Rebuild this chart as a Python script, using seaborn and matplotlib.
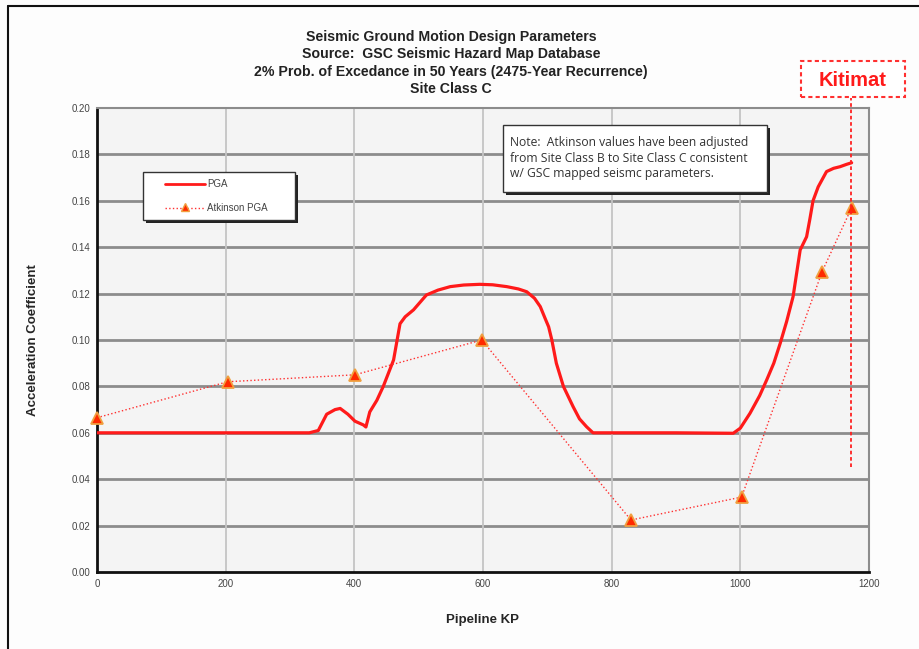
import pandas as pd
import matplotlib.pyplot as plt
import seaborn as sns
from matplotlib.patches import FancyBboxPatch, Rectangle
from matplotlib.lines import Line2D

# ---- data ----
pga_kp = [0, 100, 200, 300, 330, 344, 357, 370, 378, 390, 401, 414, 418, 424, 435,
          445, 461, 471, 479, 492, 512, 530, 549, 570, 595, 615, 637, 655, 668,
          680, 689, 697, 702, 707, 714, 725, 740, 750, 761, 771, 800, 900, 989,
          1000, 1015, 1030, 1041, 1052, 1062, 1072, 1082, 1093, 1103, 1108,
          1113, 1121, 1134, 1145, 1155, 1165, 1173]
pga = [0.060, 0.060, 0.060, 0.060, 0.060, 0.061, 0.068, 0.070, 0.0705, 0.068,
       0.065, 0.0634, 0.0625, 0.069, 0.074, 0.080, 0.0914, 0.107, 0.110, 0.113,
       0.1194, 0.1215, 0.123, 0.1237, 0.124, 0.1238, 0.123, 0.122, 0.1208,
       0.118, 0.1144, 0.109, 0.1057, 0.100, 0.090, 0.080, 0.0713, 0.066, 0.0626,
       0.060, 0.060, 0.060, 0.0598, 0.062, 0.0684, 0.076, 0.0828, 0.090, 0.0986,
       0.108, 0.1187, 0.1388, 0.1445, 0.152, 0.160, 0.166, 0.1726, 0.174,
       0.1747, 0.1757, 0.1764]

atk_kp = [0, 203, 401, 598, 830, 1002, 1127, 1173]
atk_pga = [0.0665, 0.082, 0.085, 0.100, 0.0224, 0.0323, 0.1294, 0.157]

kitimat_kp = 1172

title_lines = ["Seismic Ground Motion Design Parameters",
               "Source:  GSC Seismic Hazard Map Database",
               "2% Prob. of Excedance in 50 Years (2475-Year Recurrence)",
               "Site Class C"]
note_text = ("Note:  Atkinson values have been adjusted\n"
             "from Site Class B to Site Class C consistent\n"
             "w/ GSC mapped seismc parameters.")

df_pga = pd.DataFrame({"kp": pga_kp, "val": pga})
df_atk = pd.DataFrame({"kp": atk_kp, "val": atk_pga})

sns.set_theme(style="white")
plt.rcParams['font.family'] = ['Liberation Sans', 'DejaVu Sans']

fig = plt.figure(figsize=(9.2, 6.49), dpi=100)
fig.patch.set_facecolor('#fdfdfd')
ax = fig.add_axes([97 / 920, 77 / 649, 772 / 920, 464 / 649])
ax.set_facecolor('#f4f4f4')

# grid: dark horizontals, light verticals
for yv in [0.02 * i for i in range(1, 10)]:
    ax.axhline(yv, color='#8c8c8c', lw=2.0, zorder=1)
for xv in [200, 400, 600, 800, 1000]:
    ax.axvline(xv, color='#c4c4c4', lw=1.3, zorder=1)

sns.lineplot(data=df_pga, x="kp", y="val", ax=ax, color='#ff1a1a', lw=2.3,
             zorder=3, label='PGA')
sns.lineplot(data=df_atk, x="kp", y="val", ax=ax, color='#ff3030', lw=1.0,
             linestyle=':', marker='^', markersize=9, markerfacecolor='#ff2a00',
             markeredgecolor='#f0a040', markeredgewidth=1.3, zorder=4,
             label='Atkinson PGA', clip_on=False)
ax.get_legend().remove()

ax.set_xlim(0, 1200)
ax.set_ylim(0, 0.20)
ax.set_xticks(range(0, 1201, 200))
ax.set_yticks([0.02 * i for i in range(11)])
ax.set_yticklabels([f"{0.02 * i:.2f}" for i in range(11)])
ax.tick_params(axis='both', labelsize=7, colors='#111111', labelcolor='#444444',
               length=4, width=1.2, direction='inout', pad=3)
for s in ['left', 'bottom']:
    ax.spines[s].set_color('#111111')
    ax.spines[s].set_linewidth(2)
for s in ['top', 'right']:
    ax.spines[s].set_color('#8c8c8c')
    ax.spines[s].set_linewidth(1.5)

ax.set_xlabel('Pipeline KP', fontsize=9.5, fontweight='bold', labelpad=18)
ax.set_ylabel('Acceleration Coefficient', fontsize=9.5, fontweight='bold', labelpad=23)

# title block
for i, line in enumerate(title_lines):
    fig.text(451 / 920, 1 - (37 + i * 17.3) / 649, line, ha='center', va='center',
             fontsize=10.2, fontweight='bold', color='#222222')

# legend box with shadow
lx0, ly0, lx1, ly1 = 143 / 920, 1 - 220 / 649, 295 / 920, 1 - 172 / 649
fig.patches.append(Rectangle((lx0 + 0.003, ly0 - 0.004), lx1 - lx0, ly1 - ly0,
                             transform=fig.transFigure, facecolor='#222222',
                             edgecolor='none', zorder=5))
fig.patches.append(Rectangle((lx0, ly0), lx1 - lx0, ly1 - ly0, transform=fig.transFigure,
                             facecolor='white', edgecolor='#333333', lw=1, zorder=6))
fig.lines.append(Line2D([165 / 920, 205 / 920], [1 - 184 / 649] * 2, transform=fig.transFigure,
                        color='#ff1a1a', lw=2, zorder=7))
fig.text(207 / 920, 1 - 184 / 649, 'PGA', fontsize=7, va='center', color='#444444', zorder=7)
fig.lines.append(Line2D([165 / 920, 205 / 920], [1 - 208 / 649] * 2, transform=fig.transFigure,
                        color='#ff3030', lw=1, linestyle=':', zorder=7))
fig.lines.append(Line2D([185 / 920], [1 - 207 / 649], transform=fig.transFigure,
                        marker='^', markersize=6, markerfacecolor='#ff2a00',
                        markeredgecolor='#f0a040', color='none', zorder=8))
fig.text(207 / 920, 1 - 208 / 649, 'Atkinson PGA', fontsize=7, va='center',
         color='#444444', zorder=7)

# note box with shadow
nx0, ny0, nx1, ny1 = 503 / 920, 1 - 192 / 649, 767 / 920, 1 - 125 / 649
fig.patches.append(Rectangle((nx0 + 0.003, ny0 - 0.004), nx1 - nx0, ny1 - ny0,
                             transform=fig.transFigure, facecolor='#222222',
                             edgecolor='none', zorder=5))
fig.patches.append(Rectangle((nx0, ny0), nx1 - nx0, ny1 - ny0, transform=fig.transFigure,
                             facecolor='white', edgecolor='#333333', lw=1, zorder=6))
fig.text(510 / 920, 1 - 158 / 649, note_text, fontsize=8.7, va='center', ha='left',
         color='#333333', linespacing=1.25, family=['Open Sans', 'DejaVu Sans'], zorder=7)

# Kitimat marker line and label
kx = ax.transData.transform((kitimat_kp, 0))[0] / fig.bbox.width
fig.lines.append(Line2D([kx, kx], [1 - 467 / 649, 1 - 98 / 649], transform=fig.transFigure,
                        color='#ff2020', lw=1.3, linestyle=(0, (2, 1.5)), zorder=9))
fig.patches.append(FancyBboxPatch((801 / 920, 1 - 97 / 649), 104 / 920, 36 / 649,
                                  boxstyle='square,pad=0', transform=fig.transFigure,
                                  facecolor='white', edgecolor='#ff3030', lw=1.5,
                                  linestyle=(0, (2, 1.5)), zorder=9))
fig.text(853 / 920, 1 - 80 / 649, 'Kitimat', fontsize=14.5, fontweight='bold',
         color='#ff1a1a', ha='center', va='center', zorder=10)

# outer frame (left and top edges visible in the crop)
fig.lines.append(Line2D([8 / 920, 8 / 920], [0, 1 - 6 / 649], transform=fig.transFigure,
                        color='#111111', lw=1.5))
fig.lines.append(Line2D([8 / 920, 1], [1 - 6 / 649] * 2, transform=fig.transFigure,
                        color='#111111', lw=1.5))

fig.savefig('out.png', dpi=100)
